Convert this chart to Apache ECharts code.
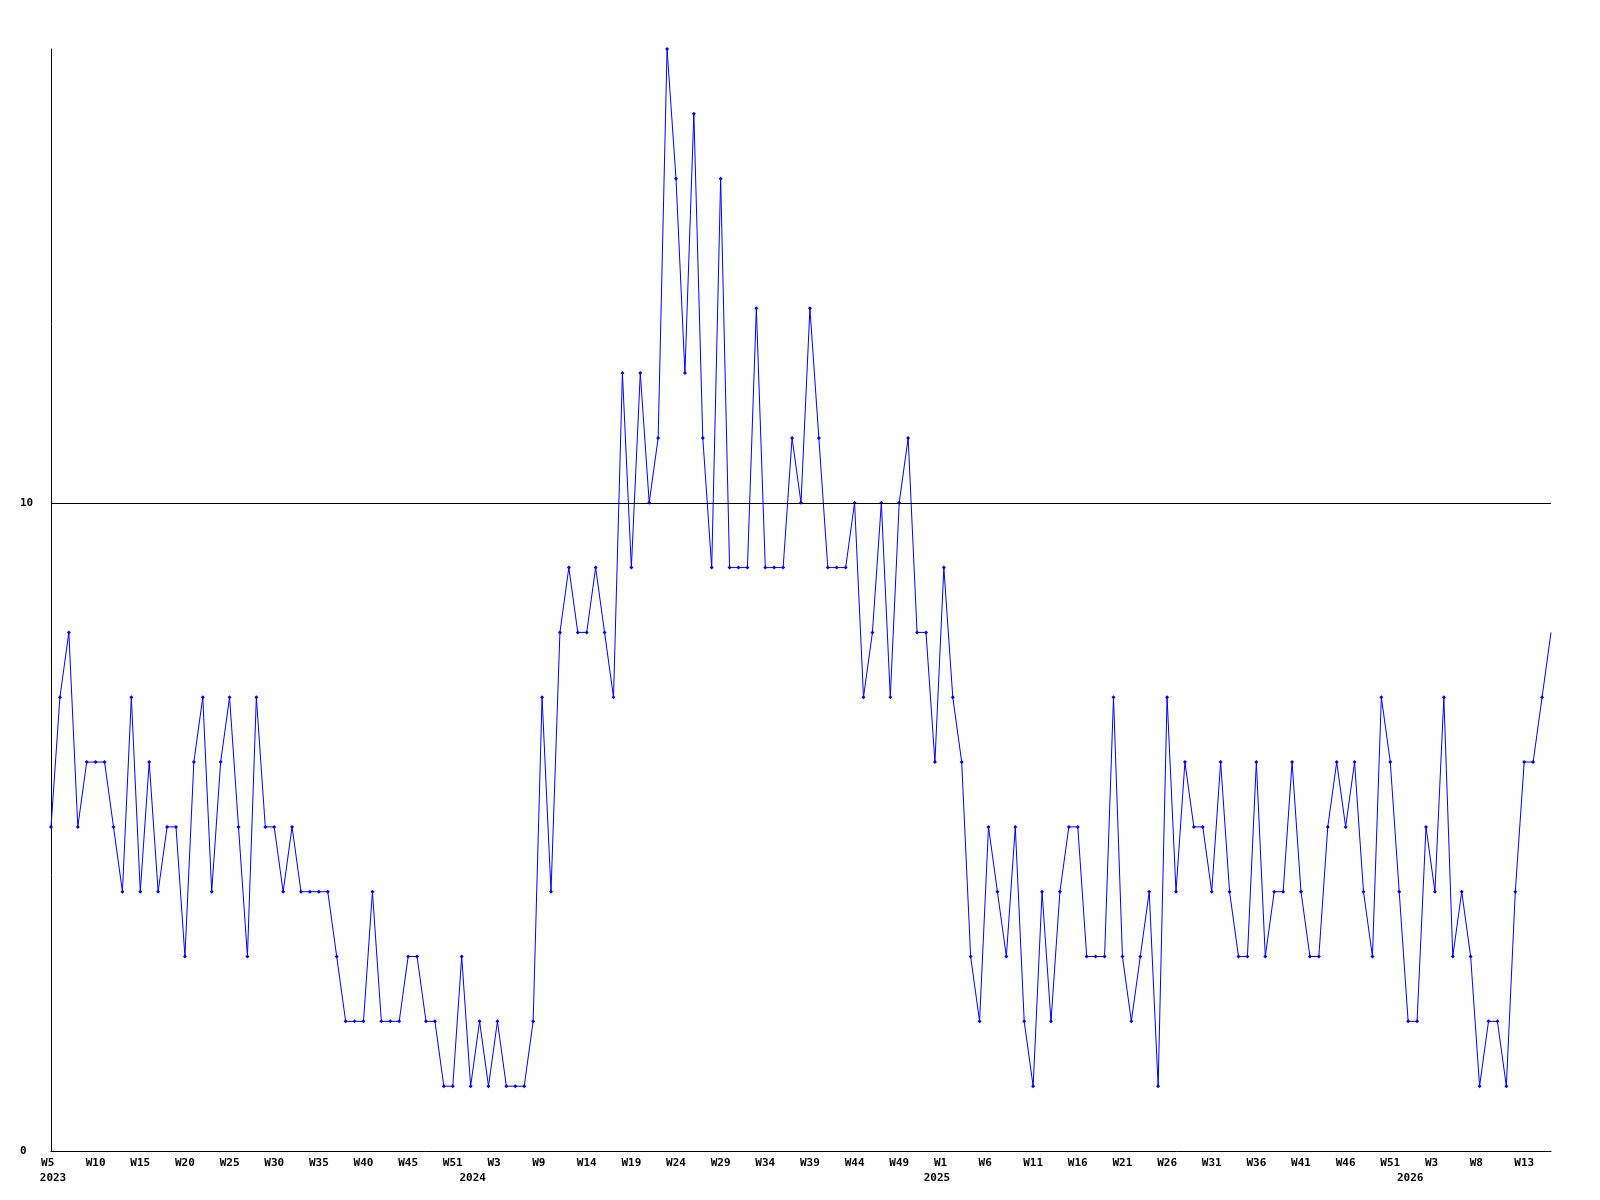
<!DOCTYPE html>
<html><head><meta charset="utf-8">
<script src="https://cdn.jsdelivr.net/npm/echarts@6/dist/echarts.min.js"></script>
<style>html,body{margin:0;padding:0;background:#fff}#c{width:1600px;height:1200px}</style>
</head><body><div id="c"></div>
<script>
// weekly values, 2023 W5 .. 2026 W15 (169 points)
const values = [
  5,7,8,5,6,6,6,5,4,7,4,6,4,5,5,3,6,7,
  4,6,7,5,3,7,5,5,4,5,4,4,4,4,3,2,2,2,4,2,2,
  2,3,3,2,2,1,1,3,1,2,1,2,1,1,1,2,7,4,8,9,8,
  8,9,8,7,12,9,12,10,11,17,15,12,16,11,9,15,9,9,9,13,9,
  9,9,11,10,13,11,9,9,9,10,7,8,10,7,10,11,8,8,6,9,7,6,
  3,2,5,4,3,5,2,1,4,2,4,5,5,3,3,3,7,3,2,3,4,
  1,7,4,6,5,5,4,6,4,3,3,6,3,4,4,6,4,3,3,5,6,
  5,6,4,3,7,6,4,2,2,5,4,7,3,4,3,1,2,2,1,4,6,6,7,8
];
const weekTickIndex = [0,5,10,15,20,25,30,35,40,45,50,55,60,65,70,75,80,85,90,95,100,105,110,115,120,125,130,135,140,145,150,155,160,165];
const weekTickLabels = ['W5','W10','W15','W20','W25','W30','W35','W40','W45','W51','W3','W9','W14','W19','W24','W29','W34','W39','W44','W49','W1','W6','W11','W16','W21','W26','W31','W36','W41','W46','W51','W3','W8','W13'];
const yearTickIndex = [0,47,99,152];
const yearTickLabels = ['2023','2024','2025','2026'];
const yTickLabels = ['0','10'];
const referenceLevel = 10;
const yMax = 17;

const categories = values.map((v, i) => String(i));
const font = {fontFamily: 'DejaVu Sans Mono', fontWeight: 'bold', fontSize: 11, color: '#000'};

const chart = echarts.init(document.getElementById('c'), null, {renderer: 'canvas'});
chart.setOption({
  animation: false,
  backgroundColor: '#fff',
  grid: {left: 51, right: 49, top: 49, bottom: 49, containLabel: false},
  xAxis: [{
    type: 'category', data: categories, boundaryGap: false, position: 'bottom',
    axisLine: {show: true, onZero: false, lineStyle: {color: '#000', width: 1}},
    axisTick: {show: false}, splitLine: {show: false},
    axisLabel: Object.assign({}, font, {
      margin: 7,
      interval: (idx) => weekTickIndex.indexOf(idx) >= 0,
      formatter: (val, idx) => {
        const k = weekTickIndex.indexOf(idx);
        if (k < 0) return '';
        const s = weekTickLabels[k];
        return s.length < 3 ? s + ' ' : s;
      }
    })
  }, {
    type: 'category', data: categories, boundaryGap: false, position: 'bottom', offset: 15,
    axisLine: {show: false}, axisTick: {show: false}, splitLine: {show: false},
    axisLabel: Object.assign({}, font, {
      margin: 7, padding: [0, 0, 0, 4],
      interval: (idx) => yearTickIndex.indexOf(idx) >= 0,
      formatter: (val, idx) => {
        const k = yearTickIndex.indexOf(idx);
        return k < 0 ? '' : yearTickLabels[k];
      }
    })
  }],
  yAxis: {
    type: 'value', min: 0, max: yMax, interval: 10,
    axisLine: {show: true, lineStyle: {color: '#000', width: 1}},
    axisTick: {show: false}, splitLine: {show: false},
    axisLabel: Object.assign({}, font, {
      align: 'left', margin: 31, showMaxLabel: false,
      formatter: (v) => yTickLabels.indexOf(String(v)) >= 0 ? String(v) : ''
    })
  },
  series: [{
    type: 'line', data: values, xAxisIndex: 0,
    showAllSymbol: true,
    symbol: (v, p) => p.dataIndex === values.length - 1 ? 'none' : 'diamond',
    symbolSize: 4,
    lineStyle: {color: '#0000ff', width: 1},
    itemStyle: {color: '#0000ff'},
    markLine: {
      silent: true, symbol: 'none', label: {show: false},
      lineStyle: {color: '#000', width: 1, type: 'solid'},
      data: [{yAxis: referenceLevel}]
    }
  }]
});
</script>
</body></html>
